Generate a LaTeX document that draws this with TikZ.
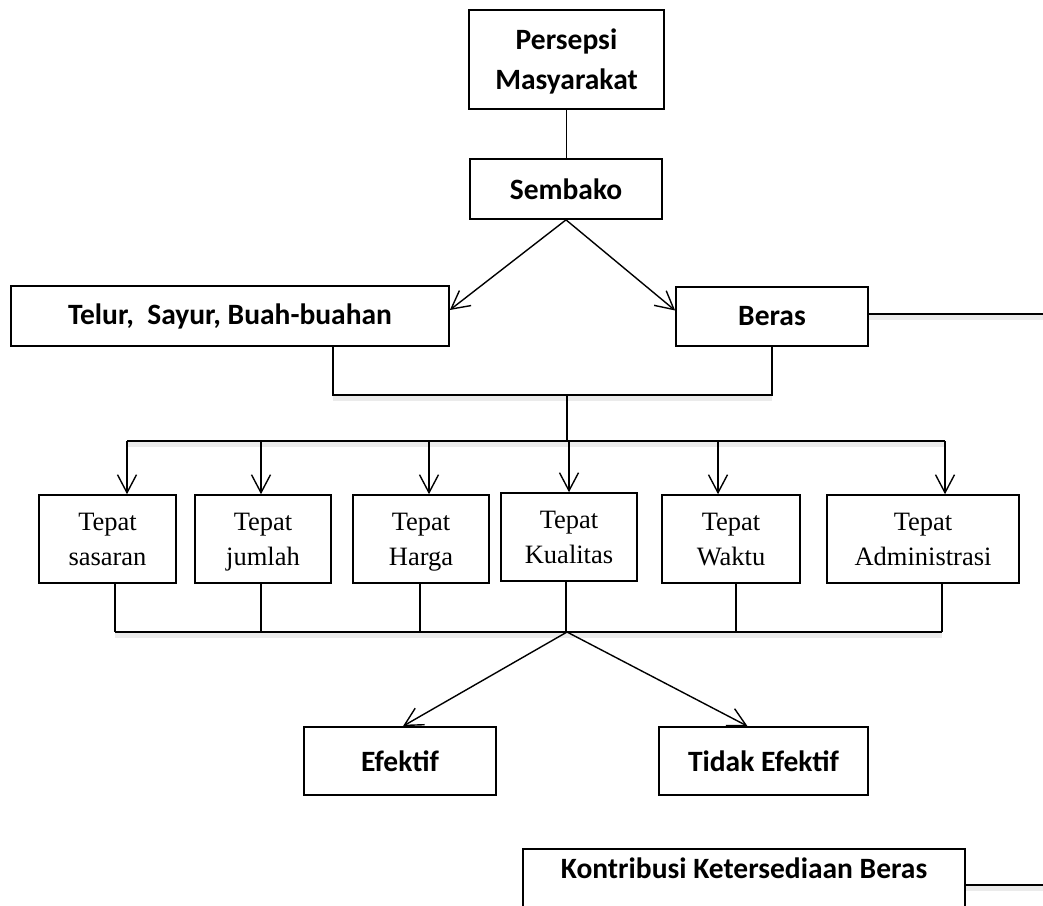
\documentclass[tikz,border=0pt]{standalone}
\usepackage{fontspec}
\setmainfont{Carlito}
\newfontfamily\tnr{Liberation Serif}
\usetikzlibrary{arrows.meta}
\begin{document}
\begin{tikzpicture}[x=1pt,y=-1pt,
  box/.style={draw, line width=1.7pt, inner sep=0pt, align=center, font=\bfseries\fontsize{29.5}{40}\selectfont},
  tbox/.style={draw, line width=1.6pt, inner sep=0pt, align=center, minimum height=88pt, text depth=0pt, font=\tnr\fontsize{26.5}{35}\selectfont},
  conn/.style={line width=1.4pt},
  arr/.style={conn, -{Straight Barb[length=18pt,width=19pt,line width=1.4pt]}},
  shad/.style={line width=5pt, black!8}]
\useasboundingbox (0,0) rectangle (1043,905);
\clip (0,0) rectangle (1043,905);

% nodes
\node[box, minimum width=195pt, minimum height=99pt, text depth=0pt] (pm) at (566.5,59.5) {Persepsi\\Masyarakat};
\node[box, minimum width=192pt, minimum height=60pt] (sb) at (566,189) {Sembako};
\node[box, minimum width=438pt, minimum height=60pt] (tl) at (230,316) {Telur,\ \ Sayur, Buah-buahan};
\node[box, minimum width=192pt, minimum height=59pt] (br) at (772,316.5) {Beras};

\node[tbox, minimum width=137pt] (t1) at (107.5,539) {Tepat\\sasaran};
\node[tbox, minimum width=136pt] (t2) at (263,539) {Tepat\\jumlah};
\node[tbox, minimum width=136pt] (t3) at (421,539) {Tepat\\Harga};
\node[tbox, minimum width=136pt] (t4) at (569,537) {Tepat\\Kualitas};
\node[tbox, minimum width=138pt] (t5) at (731,539) {Tepat\\Waktu};
\node[tbox, minimum width=192pt] (t6) at (923,539) {Tepat\\Administrasi};

\node[box, minimum width=192pt, minimum height=68pt] (ef) at (400,761) {Efektif};
\node[box, minimum width=209pt, minimum height=68pt] (te) at (763.5,761) {Tidak Efektif};
\node[box, minimum width=442pt, anchor=north, text height=19pt, text depth=30pt, inner ysep=11pt] (kk) at (744,848) {Kontribusi Ketersediaan Beras};

% coordinates
\coordinate (j1) at (567,395);
\coordinate (j2) at (567,441);
\coordinate (j3) at (567,632);
\coordinate (a1) at (127,441);
\coordinate (a2) at (261,441);
\coordinate (a3) at (429,441);
\coordinate (a4) at (569,441);
\coordinate (a5) at (718,441);
\coordinate (a6) at (945,441);
\coordinate (b1) at (115,632);
\coordinate (b2) at (261,632);
\coordinate (b3) at (420,632);
\coordinate (b4) at (566,632);
\coordinate (b5) at (736,632);
\coordinate (b6) at (942,632);
\coordinate (r1) at (1043,314);
\coordinate (r2) at (1043,885);

% soft shadows under horizontal connectors
\draw[shad] ([yshift=-3.5pt]br.east |- r1) -- ([yshift=-3.5pt]r1);
\draw[shad] ([yshift=-3.5pt,xshift=103pt]tl.south |- j1) -- ([yshift=-3.5pt]br.south |- j1);
\draw[shad] ([yshift=-3.5pt]a1) -- ([yshift=-3.5pt]a6);
\draw[shad] ([yshift=-3.5pt]b1) -- ([yshift=-3.5pt]b6);
\draw[shad] ([yshift=-3.5pt]kk.east |- r2) -- ([yshift=-3.5pt]r2);

% connectors
\draw[conn] (pm.south) -- (pm.south |- sb.north);
\draw[arr] (sb.south) -- ([yshift=6pt]tl.east);
\draw[arr] (sb.south) -- ([yshift=6pt]br.west);
\draw[conn] ([xshift=103pt]tl.south) |- (j1) -| (br.south);
\draw[conn] (j1) -- (j2);
\draw[conn] (a1) -- (a6);
\foreach \i in {1,...,6}{
  \draw[arr] (a\i) -- (a\i |- t\i.north);
  \draw[conn] (b\i |- t\i.south) -- (b\i);
}
\draw[conn] (b1) -- (b6);
\draw[arr] (j3) -- ([xshift=3pt]ef.north);
\draw[arr] (j3) -- ([xshift=-16pt]te.north);
\draw[conn] (br.east |- r1) -- (r1);
\draw[conn] (kk.east |- r2) -- (r2);
\end{tikzpicture}
\end{document}
